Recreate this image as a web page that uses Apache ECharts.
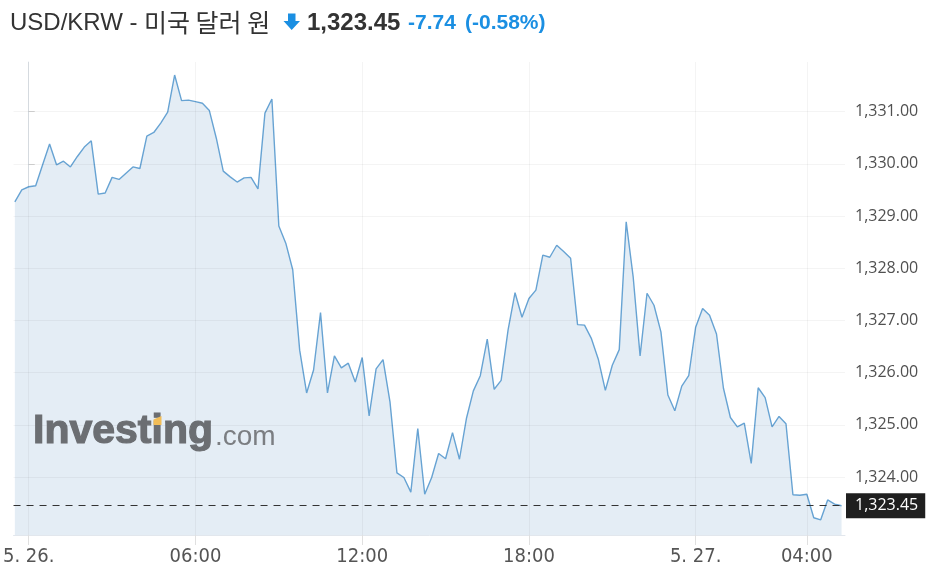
<!DOCTYPE html>
<html><head><meta charset="utf-8">
<script src="https://cdn.jsdelivr.net/npm/echarts@6/dist/echarts.min.js"></script>
<style>html,body{margin:0;padding:0;background:#fff}#c{width:937px;height:573px}</style>
</head><body><div id="c"></div>
<script>
// 15-minute closes, 5.25 23:30 -> 5.27 05:15
const values = [
1329.27,1329.50,1329.56,1329.58,1329.98,1330.38,1329.98,1330.05,1329.94,1330.14,
1330.32,1330.44,1329.42,1329.44,1329.74,1329.70,1329.82,1329.94,1329.91,1330.53,
1330.60,1330.78,1330.99,1331.70,1331.21,1331.22,1331.19,1331.16,1331.02,1330.49,
1329.86,1329.75,1329.65,1329.73,1329.74,1329.52,1330.97,1331.24,1328.81,1328.48,
1327.97,1326.43,1325.61,1326.05,1327.15,1325.61,1326.32,1326.09,1326.18,1325.82,
1326.29,1325.17,1326.07,1326.25,1325.44,1324.08,1323.99,1323.71,1324.93,1323.67,
1323.99,1324.45,1324.35,1324.85,1324.34,1325.12,1325.65,1325.94,1326.64,1325.68,
1325.85,1326.82,1327.53,1327.06,1327.42,1327.58,1328.25,1328.21,1328.44,1328.32,
1328.19,1326.92,1326.91,1326.65,1326.25,1325.66,1326.14,1326.44,1328.89,1327.84,
1326.32,1327.52,1327.29,1326.78,1325.57,1325.27,1325.74,1325.94,1326.87,1327.23,
1327.10,1326.74,1325.70,1325.14,1324.96,1325.03,1324.26,1325.71,1325.52,1324.96,
1325.16,1325.02,1323.66,1323.65,1323.67,1323.22,1323.18,1323.56,1323.48,1323.45
];
const startHour = -0.5;      // 5.25 23:30, hours from 5.26 00:00
const stepHours = 0.25;      // 15 minutes
const tickHours = [0, 6, 12, 18, 24, 28];
const tickLabels = ['5. 26.', '06:00', '12:00', '18:00', '5. 27.', '04:00'];
const priceTicks = [1324, 1325, 1326, 1327, 1328, 1329, 1330, 1331];
const lastPrice = 1323.45;
const changeAbs = '-7.74';
const changePct = '(-0.58%)';
const pairName = 'USD/KRW - ';
const pairNameKo = '미국 달러 원';

const points = values.map((v, i) => [startHour + i * stepHours, v]);
const fmt = v => Number(v).toLocaleString('en-US', {minimumFractionDigits: 2, maximumFractionDigits: 2});

const chart = echarts.init(document.getElementById('c'), null, {renderer: 'canvas'});
const gridLines = [
  ...priceTicks.map(v => ({yAxis: v})),
  ...tickHours.map(h => ({xAxis: h}))
];
chart.setOption({
  animation: false,
  backgroundColor: '#ffffff',
  grid: {left: 12, right: 92, top: 62, bottom: 38, containLabel: false},
  xAxis: {
    type: 'value', min: -0.547, max: 29.374,
    axisLine: {show: true, lineStyle: {color: '#e2e7ed', width: 1}},
    axisTick: {show: true, customValues: tickHours, length: 10, lineStyle: {color: '#e0e0e0'}},
    axisLabel: {
      customValues: tickHours, margin: 12,
      formatter: v => { const i = tickHours.indexOf(v); return i >= 0 ? tickLabels[i] : ''; },
      color: '#555', fontSize: 20, fontFamily: "'Liberation Sans Narrow', 'DejaVu Sans Condensed', sans-serif"
    },
    splitLine: {show: false}
  },
  yAxis: {
    type: 'value', position: 'right', min: 1322.889, max: 1331.95, scale: true,
    axisLine: {show: true, lineStyle: {color: '#dfe4ea', width: 1}},
    axisTick: {show: true, customValues: priceTicks, length: 6, lineStyle: {color: '#d6d6d6'}},
    axisLabel: {customValues: priceTicks, formatter: fmt, margin: 10, color: '#505050', fontSize: 16, fontFamily: "'Open Sans', sans-serif"},
    splitLine: {show: false}
  },
  series: [
    {
      type: 'line', data: points, showSymbol: false, z: 2,
      lineStyle: {color: '#67a3d3', width: 1.4},
      areaStyle: {color: '#e4edf5', opacity: 1},
      markLine: {
        silent: true, symbol: 'none', animation: false,
        lineStyle: {color: '#333', type: [7, 6], width: 1},
        label: {
          show: true, position: 'end', distance: 1, formatter: () => fmt(lastPrice),
          color: '#fff', backgroundColor: '#1f1f1f', fontSize: 16, fontFamily: "'Open Sans', sans-serif",
          padding: [5, 7, 4, 9]
        },
        data: [{yAxis: lastPrice}]
      }
    },
    {
      type: 'line', data: points, showSymbol: false, z: 3, silent: true,
      lineStyle: {opacity: 0}, tooltip: {show: false},
      markLine: {
        silent: true, symbol: 'none', animation: false,
        lineStyle: {color: 'rgba(0,0,0,0.045)', type: 'solid', width: 1},
        label: {show: false},
        data: gridLines
      }
    }
  ],
  graphic: [
    {
      type: 'text', x: 10, y: 23, z: 10,
      style: {text: pairName, font: "24px 'Liberation Sans', Arial, sans-serif", fill: '#333', verticalAlign: 'middle'}
    },
    {
      type: 'text', x: 144, y: 22, z: 10,
      style: {text: pairNameKo, font: "25px 'Noto Sans CJK KR', sans-serif", fill: '#333', verticalAlign: 'middle'}
    },
    {
      type: 'polygon', z: 10,
      shape: {points: [[288, 13.5], [295.5, 13.5], [295.5, 21], [300, 21], [291.7, 30], [283.5, 21], [288, 21]]},
      style: {fill: '#1b8fe2'}
    },
    {
      type: 'text', x: 307, y: 23, z: 10,
      style: {text: fmt(lastPrice), font: "bold 24px 'Liberation Sans', Arial, sans-serif", fill: '#333', verticalAlign: 'middle'}
    },
    {
      type: 'text', x: 408, y: 23.5, z: 10,
      style: {text: changeAbs, font: "bold 21px 'Liberation Sans', Arial, sans-serif", fill: '#1b8fe2', verticalAlign: 'middle'}
    },
    {
      type: 'text', x: 465, y: 23.5, z: 10,
      style: {text: changePct, font: "bold 21px 'Liberation Sans', Arial, sans-serif", fill: '#1b8fe2', verticalAlign: 'middle'}
    },
    {
      type: 'text', x: 33, y: 432, z: 10,
      style: {text: 'Investing', font: "bold 41px 'Liberation Sans', Arial, sans-serif", fill: '#6b6e72', stroke: '#6b6e72', lineWidth: 1.2, verticalAlign: 'middle'}
    },
    {
      type: 'text', x: 215, y: 437, z: 10,
      style: {text: '.com', font: "28px 'Liberation Sans', Arial, sans-serif", fill: '#7b7e82', verticalAlign: 'middle'}
    },
    {
      type: 'polygon', z: 11,
      shape: {points: [[153.5, 419.5], [161.5, 416], [161.5, 425], [153.5, 425]]},
      style: {fill: '#f2bd57'}
    }
  ]
});
</script>
</body></html>
